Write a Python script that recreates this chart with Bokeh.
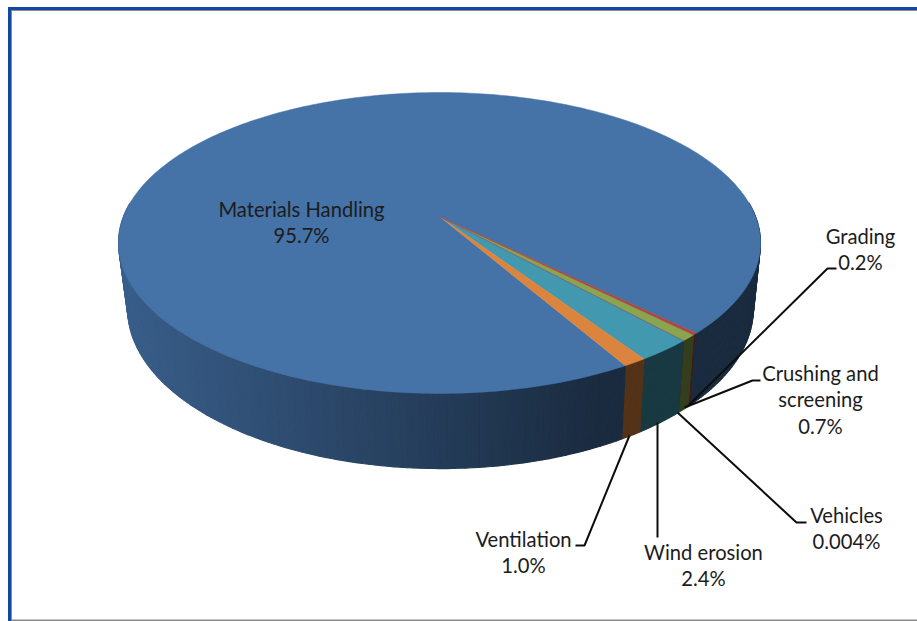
from math import sin, cos, radians

from bokeh.core.properties import value
from bokeh.embed import file_html
from bokeh.models import ColumnDataSource, Range1d
from bokeh.plotting import figure
from bokeh.resources import INLINE

# Emission shares in percent, clockwise order on the pie
categories = ["Grading", "Crushing and screening", "Vehicles", "Wind erosion", "Ventilation", "Materials Handling"]
shares = [0.2, 0.7, 0.004, 2.4, 1.0, 95.7]
share_labels = ["0.2%", "0.7%", "0.004%", "2.4%", "1.0%", "95.7%"]
top_colors = ["#aa4643", "#89a54e", "#71588f", "#4198af", "#db843d", "#4572a7"]

W, H = 917, 621
FIRST_ANGLE = 45.4  # degrees from the front of the pie towards the right
PERSPECTIVE = 0.176
TOP_RIM = dict(x0=439.0, y0=216.0, a=316.0, b=145.8)
BOTTOM_RIM = dict(x0=440.0, y0=280.0, a=308.0, b=155.0)


def project(phi, rim):
    u, v = sin(radians(phi)), cos(radians(phi))
    w = 1 - PERSPECTIVE * v
    return rim["x0"] + rim["a"] * u / w, rim["y0"] + rim["b"] * v / w


def shade(color, x):
    """Darken a slice colour for the wall, brighter towards the left of the pie."""
    t = min(max((x - 120) / 480, 0), 1)
    f = 0.83 - 0.45 * t
    return "#%02x%02x%02x" % tuple(int(int(color[i:i + 2], 16) * f) for i in (1, 3, 5))


# Cumulative slice boundaries, turning clockwise means decreasing phi
scale = 360.0 / sum(shares)
bounds = []
start = FIRST_ANGLE
for s in shares:
    bounds.append((start, start - s * scale))
    start -= s * scale

p = figure(width=W, height=H, x_range=Range1d(0, W), y_range=Range1d(H, 0),
           toolbar_location=None, output_backend="svg", min_border=0,
           background_fill_color="white", border_fill_color="white", outline_line_color=None)
p.axis.visible = False
p.grid.visible = False

# Frame of the panel
p.quad(left=[7.5], right=[10.5], top=[6.5], bottom=[H], fill_color="#14479e", line_color=None)
p.quad(left=[7.5], right=[W], top=[6.5], bottom=[9.5], fill_color="#14479e", line_color=None)
p.quad(left=[10.5], right=[11.5], top=[9.5], bottom=[H], fill_color="#8d8d8d", line_color=None)
p.quad(left=[10.5], right=[W], top=[9.5], bottom=[10.5], fill_color="#8d8d8d", line_color=None)
p.quad(left=[11], right=[W], top=[619], bottom=[620.5], fill_color="#8a8a8a", line_color=None)

# Outer wall, drawn as thin strips so the shading runs across the pie
xs, ys, cols = [], [], []
for (a0, a1), color in zip(bounds, top_colors):
    n = max(1, int(abs(a0 - a1) / 1.0))
    for i in range(n):
        b0 = a0 + (a1 - a0) * i / n
        b1 = a0 + (a1 - a0) * (i + 1) / n
        for shift in (0, 360):
            c0, c1 = b0 + shift, b1 + shift
            if -95 <= (c0 + c1) / 2 <= 95:
                pts = [project(c0, TOP_RIM), project(c1, TOP_RIM),
                       project(c1, BOTTOM_RIM), project(c0, BOTTOM_RIM)]
                xs.append([q[0] for q in pts])
                ys.append([q[1] for q in pts])
                cols.append(shade(color, sum(q[0] for q in pts) / 4))
p.patches(xs, ys, fill_color=cols, line_color=cols, line_width=1.1)

# Top face of the pie, largest slice first so the thin ones stay visible
order = sorted(zip(bounds, top_colors), key=lambda t: t[0][1] - t[0][0])
for (a0, a1), color in order:
    n = max(2, int(abs(a0 - a1)))
    pts = [project(a0 + (a1 - a0) * i / n, TOP_RIM) for i in range(n + 1)]
    p.patch([TOP_RIM["x0"]] + [q[0] for q in pts], [TOP_RIM["y0"]] + [q[1] for q in pts],
            fill_color=color, line_color=color, line_width=0.5)

# Leader lines from the labels to their slices
leaders = [
    [687, 406, 827, 268, 836, 268],
    [684, 407, 752, 380, 760, 380],
    [677, 412, 796, 522, 806, 522],
    [657, 422, 657, 537],
    [629, 435, 584, 545, 575, 545],
]
for coords in leaders:
    p.line(coords[0::2], coords[1::2], line_color="#0d0d0d", line_width=2)

# Category and percentage labels
label_lines = [
    ("Materials Handling", 301, 208), ("95.7%", 301, 234),
    ("Grading", 860, 235), ("0.2%", 860, 261),
    ("Crushing and", 820, 372), ("screening", 820, 398), ("0.7%", 820, 425),
    ("Vehicles", 846, 514), ("0.004%", 846, 540),
    ("Wind erosion", 703, 551), ("2.4%", 703, 577),
    ("Ventilation", 523, 538), ("1.0%", 523, 564),
]
src = ColumnDataSource(dict(t=[l[0] for l in label_lines], x=[l[1] for l in label_lines], y=[l[2] for l in label_lines]))
p.text("x", "y", text="t", source=src, text_font=value("Lato"), text_font_size="20.2px",
       text_align="center", text_baseline="middle", text_color="#1c1c1c")

open("out.html", "w").write(file_html(p, INLINE))
